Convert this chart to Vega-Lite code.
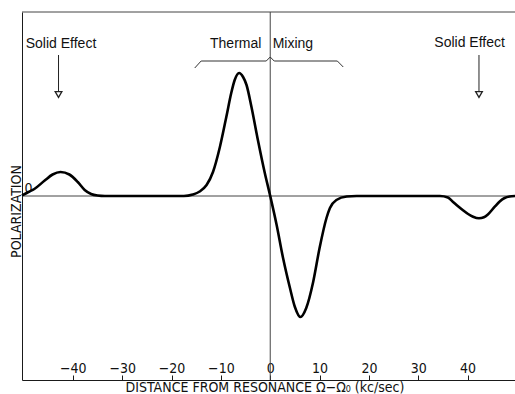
{
  "$schema": "https://vega.github.io/schema/vega-lite/v6.json",
  "width": 493,
  "height": 368,
  "autosize": {"type": "none"},
  "padding": {"left": 22, "top": 12, "right": 0, "bottom": 14},
  "background": "white",
  "config": {
    "view": {"stroke": null},
    "axis": {
      "grid": false,
      "domainColor": "#1a1a1a",
      "domainWidth": 1,
      "tickColor": "#1a1a1a",
      "labelColor": "#111",
      "titleColor": "#111",
      "labelFont": "Liberation Sans Narrow, DejaVu Sans Condensed, Liberation Sans, sans-serif",
      "titleFont": "Liberation Sans Narrow, DejaVu Sans Condensed, Liberation Sans, sans-serif",
      "labelFontSize": 14,
      "titleFontSize": 14,
      "titleFontWeight": "normal"
    },
    "text": {"font": "Liberation Sans, Arial, sans-serif", "fontSize": 14, "color": "#111"}
  },
  "datasets": {
    "curve": [
      {"x": -50.3, "y": 0.5},
      {"x": -49.0, "y": 4},
      {"x": -47.8, "y": 7},
      {"x": -45.7, "y": 15.5},
      {"x": -44.1, "y": 21.5},
      {"x": -42.5, "y": 24},
      {"x": -40.7, "y": 21.5},
      {"x": -39.0, "y": 14},
      {"x": -37.6, "y": 6},
      {"x": -36.3, "y": 2},
      {"x": -35.0, "y": 0.5},
      {"x": -33.5, "y": 0},
      {"x": -25.0, "y": 0},
      {"x": -17.5, "y": 0},
      {"x": -15.7, "y": 1.5},
      {"x": -14.3, "y": 4.5},
      {"x": -12.9, "y": 11},
      {"x": -11.6, "y": 24},
      {"x": -10.2, "y": 49},
      {"x": -8.9, "y": 79},
      {"x": -7.9, "y": 103},
      {"x": -7.2, "y": 116},
      {"x": -6.3, "y": 123},
      {"x": -5.5, "y": 119},
      {"x": -4.8, "y": 111},
      {"x": -3.8, "y": 89},
      {"x": -2.5, "y": 56},
      {"x": -1.1, "y": 23},
      {"x": 0.0, "y": 0},
      {"x": 1.3, "y": -29},
      {"x": 2.6, "y": -62},
      {"x": 4.0, "y": -92},
      {"x": 5.0, "y": -111},
      {"x": 6.1, "y": -121},
      {"x": 7.3, "y": -112},
      {"x": 8.7, "y": -86},
      {"x": 10.0, "y": -52},
      {"x": 11.4, "y": -22},
      {"x": 12.1, "y": -12},
      {"x": 13.4, "y": -4},
      {"x": 15.5, "y": -0.5},
      {"x": 17.5, "y": 0},
      {"x": 25.0, "y": 0},
      {"x": 30.0, "y": 0},
      {"x": 34.4, "y": 0},
      {"x": 36.0, "y": -1.5},
      {"x": 37.0, "y": -5.7},
      {"x": 38.0, "y": -10},
      {"x": 39.0, "y": -14},
      {"x": 40.1, "y": -18},
      {"x": 41.1, "y": -20.7},
      {"x": 42.3, "y": -22.3},
      {"x": 43.3, "y": -21.3},
      {"x": 44.1, "y": -18.5},
      {"x": 45.5, "y": -10.7},
      {"x": 46.5, "y": -5.5},
      {"x": 47.5, "y": -2},
      {"x": 48.5, "y": -0.5},
      {"x": 49.6, "y": 0}
    ],
    "bracket": [
      {"i": 1, "x": -15.3, "y": 128},
      {"i": 2, "x": -14.0, "y": 135},
      {"i": 3, "x": -0.8, "y": 135},
      {"i": 4, "x": 0.0, "y": 139},
      {"i": 5, "x": 0.8, "y": 135},
      {"i": 6, "x": 13.6, "y": 135},
      {"i": 7, "x": 14.8, "y": 129}
    ],
    "arrows": [
      {"x": -42.9, "y": 141, "y2": 105, "yh": 101.5},
      {"x": 42.3, "y": 141, "y2": 105, "yh": 101.5}
    ],
    "labels": [
      {"x": -42.4, "y": 152, "label": "Solid Effect"},
      {"x": 40.4, "y": 153, "label": "Solid Effect"},
      {"x": -7.0, "y": 152, "label": "Thermal"},
      {"x": 4.6, "y": 152, "label": "Mixing"}
    ],
    "hline": [{"y": 0}, {"y": 184}],
    "vline": [{"x": 0}]
  },
  "layer": [
    {
      "data": {"name": "hline"},
      "mark": {"type": "rule", "color": "#444", "strokeWidth": 1},
      "encoding": {"y": {"field": "y", "type": "quantitative"}}
    },
    {
      "data": {"name": "vline"},
      "mark": {"type": "rule", "color": "#444", "strokeWidth": 1},
      "encoding": {"x": {"field": "x", "type": "quantitative"}}
    },
    {
      "data": {"name": "curve"},
      "mark": {"type": "line", "color": "#000", "strokeWidth": 2.6, "interpolate": "monotone"},
      "encoding": {
        "x": {
          "field": "x",
          "type": "quantitative",
          "scale": {"domain": [-50.3, 49.6], "nice": false, "zero": false},
          "axis": {
            "values": [-40, -30, -20, -10, 0, 10, 20, 30, 40],
            "tickSize": -5,
            "labelPadding": -3,
            "labelBaseline": "alphabetic",
            "labelFlush": false,
            "labelOverlap": false,
            "titleX": 242.5,
            "titleY": 11.5,
            "titleBaseline": "alphabetic",
            "titleAlign": "center"
          },
          "title": "DISTANCE  FROM  RESONANCE  Ω−Ω₀  (kc/sec)"
        },
        "y": {
          "field": "y",
          "type": "quantitative",
          "scale": {"domain": [-184, 184], "nice": false, "zero": false},
          "axis": {
            "values": [0],
            "ticks": false,
            "labelPadding": -2,
            "labelAlign": "left",
            "labelBaseline": "alphabetic",
            "labelOffset": -4,
            "titleX": -2,
            "titleY": 199,
            "titleBaseline": "alphabetic",
            "titleAlign": "center",
            "titleAngle": 270
          },
          "title": "POLARIZATION"
        }
      }
    },
    {
      "data": {"name": "bracket"},
      "mark": {"type": "line", "color": "#333", "strokeWidth": 1},
      "encoding": {
        "x": {"field": "x", "type": "quantitative"},
        "y": {"field": "y", "type": "quantitative"},
        "order": {"field": "i"}
      }
    },
    {
      "data": {"name": "arrows"},
      "mark": {"type": "rule", "color": "#222", "strokeWidth": 1},
      "encoding": {
        "x": {"field": "x", "type": "quantitative"},
        "y": {"field": "y", "type": "quantitative"},
        "y2": {"field": "y2"}
      }
    },
    {
      "data": {"name": "arrows"},
      "mark": {"type": "point", "shape": "triangle-down", "filled": false, "color": "#222", "strokeWidth": 1.3, "size": 45, "opacity": 1},
      "encoding": {
        "x": {"field": "x", "type": "quantitative"},
        "y": {"field": "yh", "type": "quantitative"}
      }
    },
    {
      "data": {"name": "labels"},
      "mark": {"type": "text", "baseline": "middle", "align": "center"},
      "encoding": {
        "x": {"field": "x", "type": "quantitative"},
        "y": {"field": "y", "type": "quantitative"},
        "text": {"field": "label"}
      }
    }
  ]
}
